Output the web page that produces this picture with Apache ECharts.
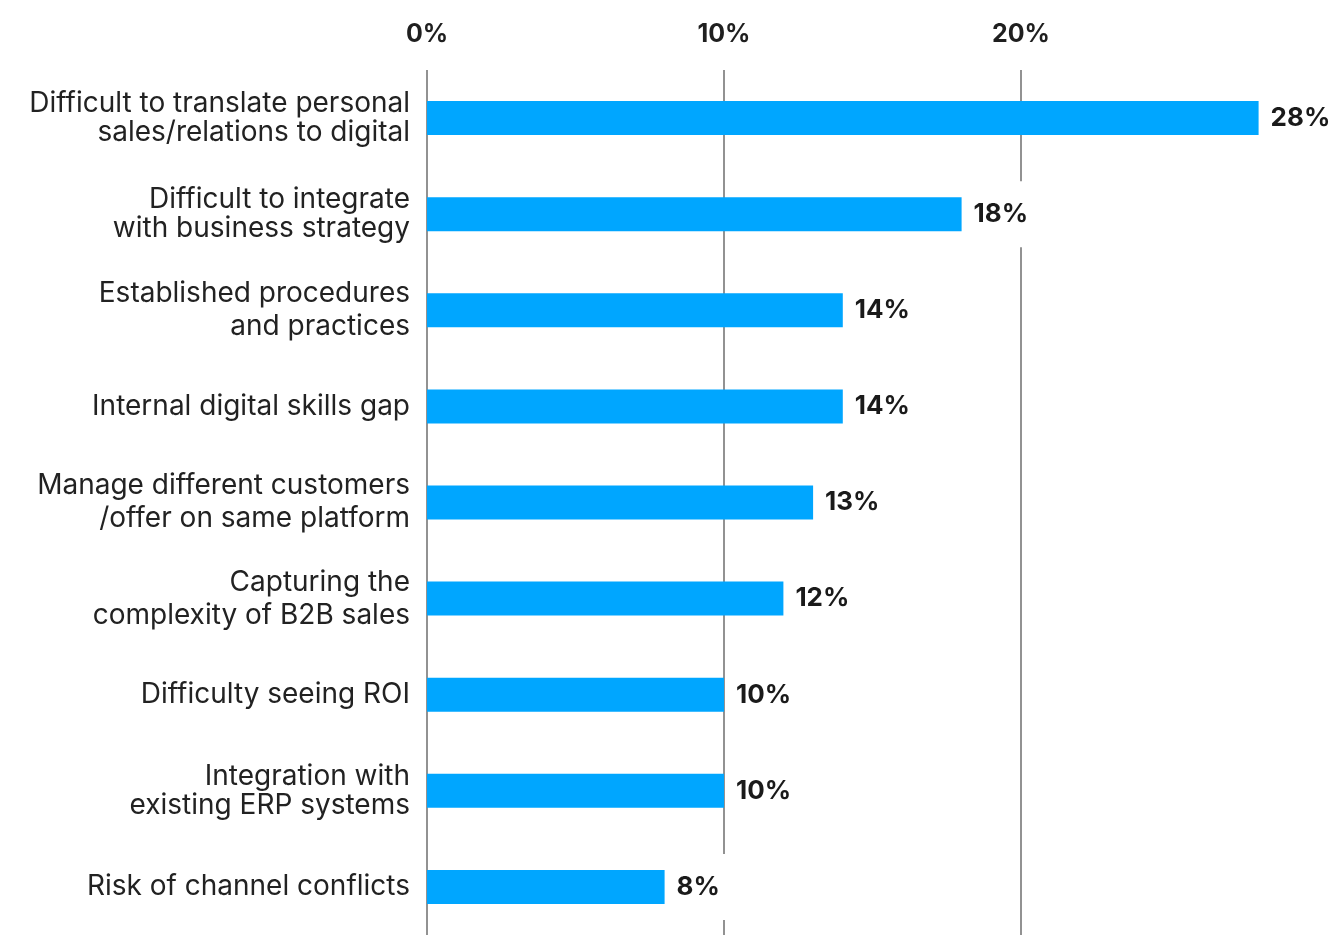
<!DOCTYPE html>
<html>
<head>
<meta charset="utf-8">
<script src="https://cdn.jsdelivr.net/npm/echarts@6/dist/echarts.min.js"></script>
<style>
  html, body { margin: 0; padding: 0; background: #fff; }
  #chart { width: 1341px; height: 941px; }
</style>
</head>
<body>
<div id="chart"></div>
<script>
// Barriers to digital sales: share of respondents (%)
const categories = [
  'Difficult to translate personal\nsales/relations to digital',
  'Difficult to integrate\nwith business strategy',
  'Established procedures\nand practices',
  'Internal digital skills gap',
  'Manage different customers\n/offer on same platform',
  'Capturing the\ncomplexity of B2B sales',
  'Difficulty seeing ROI',
  'Integration with\nexisting ERP systems',
  'Risk of channel conflicts'
];
const shares = [28, 18, 14, 14, 13, 12, 10, 10, 8];
const tickValues = [0, 10, 20];
const tickMax = 30;

// labels set with the looser line spacing
const looseLabels = [
  'Established procedures\nand practices',
  'Manage different customers\n/offer on same platform',
  'Capturing the\ncomplexity of B2B sales'
];

const FONT = 'Inter';
const chart = echarts.init(document.getElementById('chart'), null, { renderer: 'canvas' });

chart.setOption({
  backgroundColor: '#ffffff',
  animation: false,
  grid: { left: 427, right: 23, top: 70, bottom: 6, containLabel: false },
  xAxis: {
    type: 'value',
    position: 'top',
    min: tickValues[0],
    max: tickMax,
    interval: tickValues[1] - tickValues[0],
    axisLine: { show: false },
    axisTick: { show: false },
    axisLabel: {
      margin: 23,
      showMaxLabel: false,
      formatter: '{value}%',
      color: '#1f1f1f',
      fontFamily: FONT,
      fontWeight: 'bold',
      fontSize: 25
    },
    splitLine: {
      show: true,
      showMinLine: true,
      showMaxLine: false,
      lineStyle: { color: '#6e6e6e', width: 1.5 }
    }
  },
  yAxis: {
    type: 'category',
    inverse: true,
    data: categories,
    axisLine: { show: false },
    axisTick: { show: false },
    axisLabel: {
      margin: 17,
      color: '#222222',
      fontFamily: FONT,
      fontSize: 28,
      lineHeight: 29,
      formatter: function (value) {
        if (looseLabels.indexOf(value) >= 0) {
          return value.split('\n').map(function (l) { return '{loose|' + l + '}'; }).join('\n');
        }
        return value;
      },
      rich: {
        loose: {
          color: '#222222',
          fontFamily: FONT,
          fontSize: 28,
          lineHeight: 33
        }
      }
    }
  },
  series: [{
    type: 'bar',
    data: shares,
    barWidth: 34,
    itemStyle: { color: '#00A6FF' },
    label: {
      show: true,
      position: 'right',
      distance: 4,
      formatter: '{c}%',
      color: '#1a1a1a',
      fontFamily: FONT,
      fontWeight: 'bold',
      fontSize: 26,
      backgroundColor: '#ffffff',
      padding: [20, 14, 20, 8]
    }
  }]
});
</script>
</body>
</html>
